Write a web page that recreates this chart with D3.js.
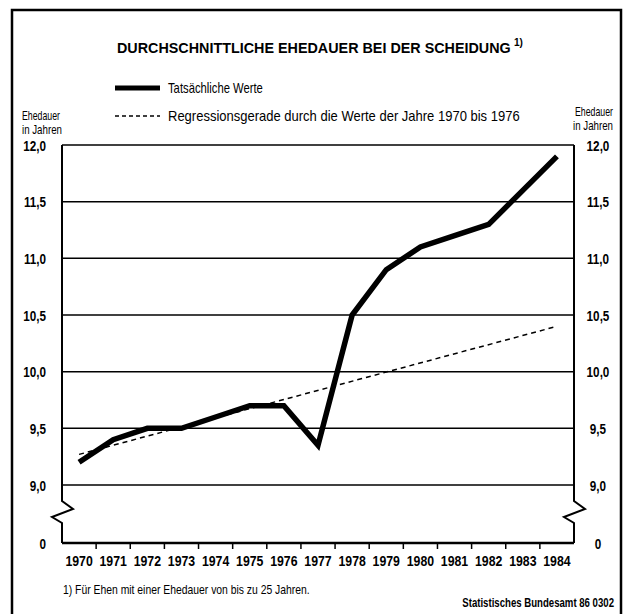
<!DOCTYPE html>
<html><head><meta charset="utf-8">
<script src="https://cdn.jsdelivr.net/npm/d3@7"></script>
<style>
html,body{margin:0;padding:0;background:#fff;}
svg text{font-family:'Liberation Sans','DejaVu Sans',sans-serif;fill:#000;}
</style></head>
<body>
<svg id="c" width="627" height="614"></svg>
<script>
const years = [1970,1971,1972,1973,1974,1975,1976,1977,1978,1979,1980,1981,1982,1983,1984];
const actual = [9.2,9.4,9.5,9.5,9.6,9.7,9.7,9.35,10.5,10.9,11.1,11.2,11.3,11.6,11.9];
const regYears = [1970,1984];
const regValues = [9.27,10.4];
const yTicks = [0,9.0,9.5,10.0,10.5,11.0,11.5,12.0];
const gridValues = [9.0,9.5,10.0,10.5,11.0,11.5,12.0];
const title = "DURCHSCHNITTLICHE EHEDAUER BEI DER SCHEIDUNG";
const legendLabels = ["Tatsächliche Werte","Regressionsgerade durch die Werte der Jahre 1970 bis 1976"];
const axisTitle = ["Ehedauer","in Jahren"];
const footnote = "1) Für Ehen mit einer Ehedauer von bis zu 25 Jahren.";
const source = "Statistisches Bundesamt 86 0302";

const svg = d3.select("#c");
const L = 62, R = 574;
const x = d3.scaleBand().domain(years).range([L,R]).padding(0);
const y = d3.scaleLinear().domain([0,8.3,9,12]).range([543,500,485,145]);
const cx = d => x(d) + x.bandwidth()/2;
const fmt = v => v === 0 ? "0" : d3.format(".1f")(v).replace(".",",");

// place a text at (px,py), horizontally compressed to a target width
function label(str, px, py, size, width, opts={}){
  const t = svg.append("text").attr("font-size",size).text(str);
  if (opts.bold) t.attr("font-weight","bold");
  if (opts.anchor) t.attr("text-anchor",opts.anchor);
  const n = t.node().getComputedTextLength();
  t.attr("transform",`translate(${px},${py}) scale(${width/n},1)`);
  return t;
}
function squeeze(sel, f){ sel.each(function(){ d3.select(this).attr("transform",`scale(${f},1)`); }); }

// frame
svg.append("rect").attr("x",12).attr("y",10).attr("width",609).attr("height",620)
  .attr("fill","none").attr("stroke","#000").attr("stroke-width",2.5);

// title
label(title, 117, 53, 15, 394, {bold:true});
label("1)", 514, 46, 10, 9, {bold:true});

// legend
svg.append("line").attr("x1",115).attr("x2",160).attr("y1",88).attr("y2",88)
  .attr("stroke","#000").attr("stroke-width",5);
label(legendLabels[0], 168, 93, 14, 95);
svg.append("line").attr("x1",115).attr("x2",160).attr("y1",116).attr("y2",116)
  .attr("stroke","#000").attr("stroke-width",1.5).attr("stroke-dasharray","4,3");
label(legendLabels[1], 168, 121, 14, 352);

// axis titles
const atw = [38,40];
axisTitle.forEach((s,i)=>{
  label(s, 22, 120+i*14, 13, atw[i]);
  label(s, 613, 116+i*14, 13, atw[i], {anchor:"end"});
});

// gridlines
svg.append("g").selectAll("line").data(gridValues).join("line")
  .attr("x1",L).attr("x2",R).attr("y1",d=>y(d)).attr("y2",d=>y(d))
  .attr("stroke","#000").attr("stroke-width",1.5);

// y axes labels
const yl = svg.append("g").attr("transform",`translate(${L-16},0)`)
  .call(d3.axisLeft(y).tickValues(yTicks).tickFormat(fmt).tickSize(0).tickPadding(0));
yl.select(".domain").remove();
yl.selectAll("text").attr("font-size",15).attr("font-weight","bold").attr("dy","0.35em").attr("x",0);
squeeze(yl.selectAll("text"), 0.78);
const yr = svg.append("g").attr("transform",`translate(${R+24},0)`)
  .call(d3.axisRight(y).tickValues(yTicks).tickFormat(fmt).tickSize(0).tickPadding(0));
yr.select(".domain").remove();
yr.selectAll("text").attr("font-size",15).attr("font-weight","bold").attr("text-anchor","middle").attr("dy","0.35em").attr("x",0);
squeeze(yr.selectAll("text"), 0.78);

// vertical axes with break zigzag
function axisPath(x0){
  const p = d3.path();
  p.moveTo(x0, y(12)); p.lineTo(x0, 501);
  p.lineTo(x0+11, 509); p.lineTo(x0-10, 517); p.lineTo(x0, 523);
  p.lineTo(x0, y(0));
  return p.toString();
}
[L,R].forEach(x0=>svg.append("path").attr("d",axisPath(x0)).attr("fill","none")
  .attr("stroke","#000").attr("stroke-width",2));

// x axis
svg.append("line").attr("x1",L).attr("x2",R).attr("y1",y(0)).attr("y2",y(0))
  .attr("stroke","#000").attr("stroke-width",2.5);
svg.append("g").selectAll("line").data(years.slice(0,-1)).join("line")
  .attr("x1",d=>x(d)+x.bandwidth()).attr("x2",d=>x(d)+x.bandwidth())
  .attr("y1",y(0)).attr("y2",y(0)+6).attr("stroke","#000").attr("stroke-width",1.5);
const xa = svg.append("g").attr("transform",`translate(0,${y(0)+7})`)
  .call(d3.axisBottom(x).tickSize(0).tickPadding(5));
xa.select(".domain").remove();
xa.selectAll("text").attr("font-size",15).attr("font-weight","bold");
squeeze(xa.selectAll("text"), 0.82);

// regression line
svg.append("path").datum(regYears.map((yy,i)=>[yy,regValues[i]]))
  .attr("d",d3.line().x(d=>cx(d[0])).y(d=>y(d[1])))
  .attr("fill","none").attr("stroke","#000").attr("stroke-width",1.5).attr("stroke-dasharray","5,4");

// actual line
svg.append("path").datum(years.map((yy,i)=>[yy,actual[i]]))
  .attr("d",d3.line().x(d=>cx(d[0])).y(d=>y(d[1])))
  .attr("fill","none").attr("stroke","#000").attr("stroke-width",5.5)
  .attr("stroke-linejoin","miter").attr("stroke-miterlimit",3);

// footnotes
label(footnote, 63, 594, 13, 247);
label(source, 614, 607, 12, 152, {bold:true, anchor:"end"});
</script>
</body></html>
